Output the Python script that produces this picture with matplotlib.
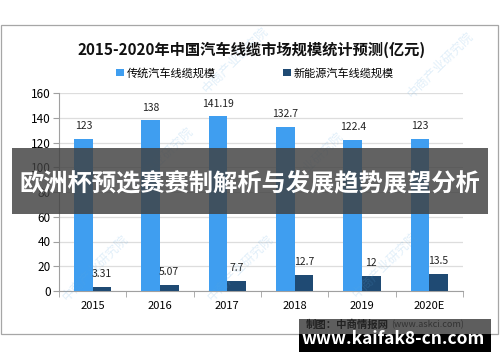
import matplotlib.pyplot as plt
import numpy as np
from matplotlib.patches import Rectangle

plt.rcParams['font.family'] = ['Noto Sans CJK SC', 'DejaVu Sans']

years = ['2015', '2016', '2017', '2018', '2019', '2020E']
traditional = [123, 138, 141.19, 132.7, 122.4, 123]
new_energy = [3.31, 5.07, 7.7, 12.7, 12, 13.5]
trad_labels = ['123', '138', '141.19', '132.7', '122.4', '123']
new_labels = ['3.31', '5.07', '7.7', '12.7', '12', '13.5']

c_light = '#3f9ef0'
c_dark = '#1f4a73'

W, H = 500, 362
fig = plt.figure(figsize=(5, 3.62), dpi=100)

def fx(px):
    return px / W

def fy(py):
    return 1 - py / H

# outer frame
fig.patches.append(Rectangle((fx(1), fy(334)), fx(497), (334 - 25) / H,
                             transform=fig.transFigure, fill=False,
                             edgecolor='#a6a6a6', linewidth=0.9))

# watermarks
for (wx, wy) in [(235, 60), (440, 65), (160, 160), (310, 165),
                 (95, 268), (240, 268), (385, 265)]:
    fig.text(fx(wx), fy(wy), '中商产业研究院', rotation=45, fontsize=9,
             color='#5aa7e0', alpha=0.18, ha='center', va='center', zorder=0)

ax = fig.add_axes([fx(59), fy(291), fx(463 - 59), (291 - 93) / H])
x = np.arange(len(years))
w = 0.275
b1 = ax.bar(x - w / 2, traditional, w, color=c_light, label='传统汽车线缆规模', zorder=3)
b2 = ax.bar(x + w / 2, new_energy, w, color=c_dark, label='新能源汽车线缆规模', zorder=3)

for xi, v, t in zip(x, traditional, trad_labels):
    ax.annotate(t, (xi - w / 2, v), xytext=(0, 9), textcoords='offset points',
                ha='center', va='center', fontsize=7.5, color='#222222')
for xi, v, t in zip(x, new_energy, new_labels):
    ax.annotate(t, (xi + w / 2, v), xytext=(0, 9.5), textcoords='offset points',
                ha='center', va='center', fontsize=7.5, color='#222222')

ax.set_xlim(-0.5, len(years) - 0.5)
ax.set_ylim(0, 160)
ax.set_yticks(range(0, 161, 20))
ax.set_xticks(x)
ax.set_xticklabels(years)
ax.set_xticks(np.arange(-0.5, len(years), 1), minor=True)
ax.tick_params(axis='x', which='major', length=0, pad=7, labelsize=8)
ax.tick_params(axis='x', which='minor', length=4, color='#a0a0a0')
ax.tick_params(axis='y', length=4, color='#a0a0a0', labelsize=8.5, pad=2)
ax.grid(axis='y', color='#dddddd', linewidth=0.9, zorder=0)
ax.set_facecolor('none')
for s in ['top', 'right']:
    ax.spines[s].set_visible(False)
for s in ['left', 'bottom']:
    ax.spines[s].set_color('#a0a0a0')

fig.text(fx(252), fy(50), '2015-2020年中国汽车线缆市场规模统计预测(亿元)',
         ha='center', va='center', fontsize=11, fontweight='bold', color='#111111')

fig.legend(handles=[b1, b2], loc='center', bbox_to_anchor=(fx(255), fy(73)),
           ncol=2, frameon=False, fontsize=8, handlelength=0.7, handleheight=0.7,
           columnspacing=6, handletextpad=0.3)

# overlay banner
fig.patches.append(Rectangle((fx(12), fy(214)), fx(488 - 12), (214 - 148) / H,
                             transform=fig.transFigure, facecolor='#404040',
                             alpha=0.82, edgecolor='none', zorder=5))
fig.text(fx(250), fy(183), '欧洲杯预选赛赛制解析与发展趋势展望分析', ha='center',
         va='center', fontsize=17.5, fontweight='bold', color='white', zorder=6)

# bottom-right box
fig.patches.append(Rectangle((fx(299), fy(334)), fx(192), (334 - 319) / H,
                             transform=fig.transFigure, facecolor='#5e5e5e',
                             edgecolor='none', zorder=5))
fig.patches.append(Rectangle((fx(299), fy(352)), fx(192), (352 - 334) / H,
                             transform=fig.transFigure, facecolor='black',
                             edgecolor='none', zorder=5))
fig.text(fx(306), fy(325), '制图：中商情报网', ha='left', va='center',
         fontsize=7.5, color='#222222', fontweight='bold', zorder=6)
fig.text(fx(391), fy(325), '(www.askci.com)', ha='left', va='center',
         fontsize=6.5, color='#333333', zorder=6)
fig.text(fx(393), fy(339), 'www.kaifak8-cn.com', ha='center', va='center',
         fontsize=12.5, color='white', fontweight='bold', zorder=6)

fig.savefig('out.png', dpi=100)
